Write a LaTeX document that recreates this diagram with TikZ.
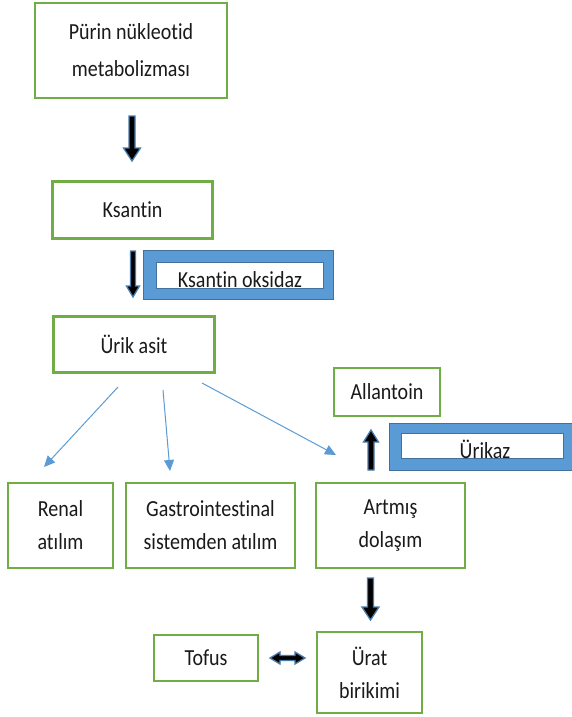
\documentclass[tikz,border=0pt]{standalone}
\usepackage{fontspec}
\setmainfont{Carlito}[FakeStretch=0.87, Ligatures=NoCommon]
\usetikzlibrary{arrows.meta,calc}
\definecolor{gboxc}{HTML}{70AD47}
\definecolor{bfill}{HTML}{5B9BD5}
\definecolor{bdark}{HTML}{41719C}
\definecolor{txt}{HTML}{1A1A1A}
\newcommand{\blkarrow}[6]{%
  \draw[bigarr] ({#1-#4},#2) -- ({#1+#4},#2) -- ({#1+#4},{#3-#6}) -- ({#1+#5},{#3-#6}) -- (#1,#3) -- ({#1-#5},{#3-#6}) -- ({#1-#4},{#3-#6}) -- cycle;}
\tikzset{
  gbox/.style={draw=gboxc, line width=2.4pt, fill=white, align=center, inner sep=0pt, text=txt,
     font=\fontsize{23}{33}\selectfont},
  bouter/.style={draw=bdark, line width=1pt, fill=bfill, inner sep=0pt},
  binner/.style={draw=bdark, line width=0.6pt, fill=white, inner sep=0pt},
  blabel/.style={anchor=base, inner sep=0pt, text=txt, font=\fontsize{23}{26}\selectfont},
  thinarr/.style={draw=bfill, line width=1pt, -{Triangle[length=11pt,width=10pt]}},
  bigarr/.style={fill=black, draw=bfill!80!black, line width=1.3pt, line join=miter}
}
\begin{document}
\begin{tikzpicture}[x=1pt,y=-1pt]
\useasboundingbox[fill=white] (0,0) rectangle (571,717);

% green boxes
\node[gbox, minimum width=192pt, minimum height=95pt] (pur) at (131,50.5)
  {Pürin nükleotid\\[4pt] metabolizması};
\node[gbox, minimum width=160pt, minimum height=57pt] (ks) at (132.5,210) {Ksantin};
\node[gbox, minimum width=161pt, minimum height=56pt] (ua) at (134,344.5) {Ürik asit};
\node[gbox, minimum width=106pt, minimum height=48pt] (al) at (387,392) {Allantoin};
\node[gbox, minimum width=105pt, minimum height=85pt] (ren) at (60.5,525.5) {Renal\\ atılım};
\node[gbox, minimum width=169pt, minimum height=85pt] (gi) at (210.5,525.5) {Gastrointestinal\\ sistemden atılım};
\node[gbox, minimum width=149pt, minimum height=85pt] (art) at (390.5,525.5) {Artmış\\ dolaşım};
\node[gbox, minimum width=104pt, minimum height=46pt] (tof) at (206,658) {Tofus};
\node[gbox, minimum width=105pt, minimum height=81pt] (ur) at (369.5,672.5) {Ürat\\ birikimi};

% enzyme boxes
\node[bouter, minimum width=190pt, minimum height=49pt] (kox) at (238,274.5) {};
\node[binner, minimum width=167pt, minimum height=26pt] (koi) at (239.5,275) {};
\node[blabel] (kol) at (240,287) {Ksantin oksidaz};
\node[bouter, minimum width=190pt, minimum height=47pt] (ukx) at (484,446.5) {};
\node[binner, minimum width=162pt, minimum height=25pt] (uki) at (482,445.5) {};
\node[blabel] (ukl) at (485,458) {Ürikaz};

% thin arrows from Ürik asit
\coordinate (t1s) at (118,387); \coordinate (t1e) at (44,467);
\coordinate (t2s) at (163,390); \coordinate (t2e) at (170,471);
\coordinate (t3s) at (202,383); \coordinate (t3e) at (336,455);
\draw[thinarr] (t1s) -- (t1e);
\draw[thinarr] (t2s) -- (t2e);
\draw[thinarr] (t3s) -- (t3e);

% thick block arrows
\blkarrow{132}{116}{161}{3}{8.5}{13}
\blkarrow{133}{251}{297}{2.5}{6.5}{11}
\blkarrow{371}{470}{430}{3}{7.5}{-12}
\blkarrow{370.5}{578}{620}{3}{8.5}{13}
% double arrow Tofus <-> Ürat
\draw[bigarr] (270,658) -- (280,652) -- (280,655.5) -- (295,655.5) -- (295,652) -- (305,658)
  -- (295,664) -- (295,660.5) -- (280,660.5) -- (280,664) -- cycle;
\end{tikzpicture}
\end{document}
